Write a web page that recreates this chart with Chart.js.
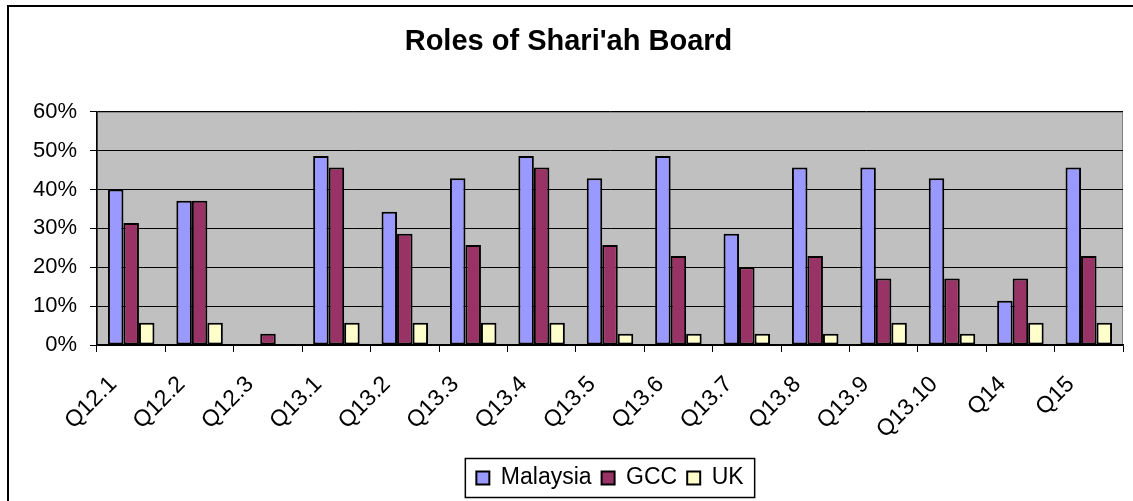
<!DOCTYPE html>
<html>
<head>
<meta charset="utf-8">
<script src="https://cdn.jsdelivr.net/npm/chart.js@4.4.1/dist/chart.umd.min.js"></script>
<style>
  html, body { margin: 0; padding: 0; background: #fff; }
  #wrap { position: relative; width: 1133px; height: 501px; }
</style>
</head>
<body>
<div id="wrap"><canvas id="chart" width="1133" height="501"></canvas></div>
<script>
const categories = ["Q12.1", "Q12.2", "Q12.3", "Q13.1", "Q13.2", "Q13.3", "Q13.4", "Q13.5",
    "Q13.6", "Q13.7", "Q13.8", "Q13.9", "Q13.10", "Q14", "Q15"];
const malaysia = [40.0, 37.1, 0, 48.6, 34.3, 42.9, 48.6, 42.9, 48.6, 28.6, 45.7, 45.7, 42.9, 11.4, 45.7];
const gcc = [31.4, 37.1, 2.9, 45.7, 28.6, 25.7, 45.7, 25.7, 22.9, 20.0, 22.9, 17.1, 17.1, 17.1, 22.9];
const uk = [5.7, 5.7, 0, 5.7, 5.7, 5.7, 5.7, 2.9, 2.9, 2.9, 2.9, 5.7, 2.9, 5.7, 5.7];
const yMin = 0, yMax = 60, yStep = 10;

const FONT = "'Liberation Sans', Arial, sans-serif";

// grey plot area, outer frame and the box round the legend
const decor = {
    id: "decor",
    beforeDraw(chart) {
        const { ctx, chartArea: a } = chart;
        ctx.save();
        ctx.fillStyle = "#c0c0c0";
        ctx.fillRect(a.left, a.top, a.width, a.height);
        ctx.strokeStyle = "#808080";
        ctx.lineWidth = 1;
        ctx.strokeRect(a.left + 0.5, a.top + 0.5, a.width - 1, a.height - 1);
        ctx.restore();
    },
    afterDraw(chart) {
        const { ctx } = chart;
        ctx.save();
        ctx.fillStyle = "#000";
        ctx.fillRect(7, 5, 2, chart.height);
        ctx.fillRect(7, 5, chart.width, 2);
        const boxes = chart.legend.legendHitBoxes;
        if (boxes && boxes.length) {
            const l = Math.min(...boxes.map(b => b.left)) - 11;
            const r = Math.max(...boxes.map(b => b.left + b.width)) + 11;
            const t = Math.min(...boxes.map(b => b.top)) - 8;
            const bt = Math.max(...boxes.map(b => b.top + b.height)) + 8;
            ctx.strokeStyle = "#000";
            ctx.lineWidth = 1.5;
            ctx.strokeRect(l, t, r - l, bt - t);
        }
        ctx.restore();
    }
};

window.addEventListener("load", () => {
    const ctx = document.getElementById("chart");
    new Chart(ctx, {
        type: "bar",
        data: {
            labels: categories,
            datasets: [
                { label: "Malaysia", data: malaysia, backgroundColor: "#9999ff" },
                { label: "GCC", data: gcc, backgroundColor: "#993366" },
                { label: "UK", data: uk, backgroundColor: "#ffffcc" }
            ].map(d => Object.assign(d, {
                borderColor: "#000",
                borderWidth: 2,
                borderSkipped: false,
                categoryPercentage: 0.68,
                barPercentage: 1
            }))
        },
        options: {
            responsive: false,
            devicePixelRatio: 1,
            animation: false,
            layout: { padding: { left: 14, right: 10, top: 0, bottom: 1.5 } },
            plugins: {
                title: {
                    display: true,
                    text: "Roles of Shari'ah Board",
                    color: "#000",
                    font: { family: FONT, size: 29, weight: "bold" },
                    padding: { top: 25, bottom: 52 }
                },
                legend: {
                    position: "bottom",
                    fullSize: false,
                    labels: {
                        color: "#000",
                        font: { family: FONT, size: 23 },
                        boxWidth: 13,
                        boxHeight: 13,
                        padding: 10
                    }
                },
                tooltip: { enabled: false }
            },
            scales: {
                x: {
                    grid: { drawOnChartArea: false, offset: true, color: "#000", tickLength: 7 },
                    border: { color: "#000", width: 1.5 },
                    ticks: {
                        color: "#000",
                        font: { family: FONT, size: 23 },
                        minRotation: 45,
                        maxRotation: 45,
                        autoSkip: false,
                        labelOffset: -18,
                        padding: 19
                    },
                    afterFit(scale) {
                        scale.height = 111.5;
                        scale.paddingLeft = 0;
                        scale.paddingRight = 0;
                    }
                },
                y: {
                    min: yMin,
                    max: yMax,
                    grid: { color: "#000", tickLength: 7 },
                    border: { color: "#000", width: 1.5 },
                    ticks: {
                        stepSize: yStep,
                        color: "#000",
                        font: { family: FONT, size: 22 },
                        padding: 13,
                        callback: v => v + "%"
                    },
                    afterFit(scale) { scale.width = 83; }
                }
            }
        },
        plugins: [decor]
    });
});
</script>
</body>
</html>
